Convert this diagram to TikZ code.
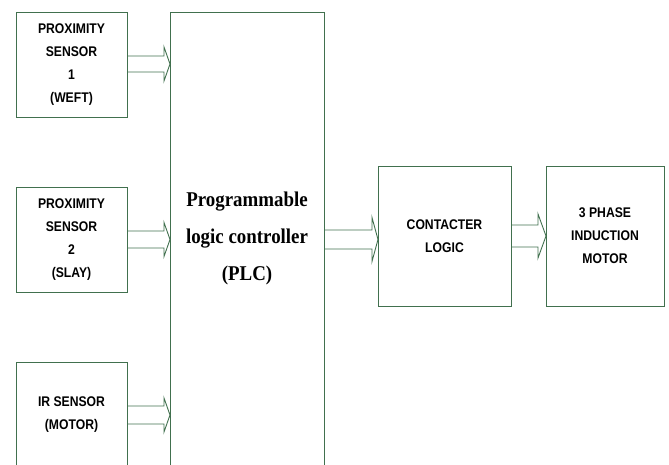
\documentclass[tikz,border=0pt]{standalone}
\usepackage{fontspec}
\setmainfont{Liberation Serif}
\setsansfont{Liberation Sans}
\newfontfamily\condsans[FakeStretch=0.87]{Liberation Sans}
\newfontfamily\condserif[FakeStretch=0.9]{Liberation Serif}
\definecolor{boxline}{HTML}{41704E}
\tikzset{
  blk/.style={draw=boxline, line width=0.9pt, fill=white},
  lbl/.style={font=\condsans\bfseries\fontsize{14}{23}\selectfont, align=center, inner sep=0pt},
  plclbl/.style={font=\condserif\bfseries\fontsize{21}{37}\selectfont, align=center, inner sep=0pt},
  harrow/.style={draw=boxline, line width=0.9pt, line join=miter}
}
% hollow block arrow: start x, end (tip) x, upper line y, lower line y, head start x, head half height
\newcommand{\hollowarrow}[6]{%
  \draw[harrow] (#1,#3) -- (#5,#3) -- (#5,{(#3+#4)/2-#6}) -- (#2,{(#3+#4)/2})
    -- (#5,{(#3+#4)/2+#6}) -- (#5,#4) -- (#1,#4);}
\begin{document}
\begin{tikzpicture}[x=1pt,y=-1pt]
\useasboundingbox (0,0) rectangle (669,464);
\begin{scope}
\clip (0,0) rectangle (669,464);
% sensor blocks
\draw[blk] (16,12) rectangle (127,117);
\draw[blk] (16,187) rectangle (127,292);
\draw[blk] (16,362) rectangle (127,480);
% controller
\draw[blk] (170,12) rectangle (324,480);
% output stages
\draw[blk] (378,166) rectangle (511,306);
\draw[blk] (546,166) rectangle (664,306);
\end{scope}
\node[lbl] (s1) at (71.5,64.5) {PROXIMITY\\SENSOR\\1\\(WEFT)};
\node[lbl] (s2) at (71.5,239.5) {PROXIMITY\\SENSOR\\2\\(SLAY)};
\node[lbl] (s3) at (71.5,415) {IR SENSOR\\(MOTOR)};
\node[plclbl] (plc) at (247,238) {Programmable\\logic controller\\(PLC)};
\node[lbl] (cl) at (444.5,236) {CONTACTER\\LOGIC};
\node[lbl] (im) at (605,236) {3 PHASE\\INDUCTION\\MOTOR};
% connectors
\hollowarrow{127}{170}{56}{72}{164}{17}
\hollowarrow{127}{170}{231}{248}{164}{17}
\hollowarrow{127}{170}{406}{424}{164}{17}
\hollowarrow{324}{378}{230}{249}{372}{22}
\hollowarrow{511}{546}{225}{247}{538}{22}
\end{tikzpicture}
\end{document}
